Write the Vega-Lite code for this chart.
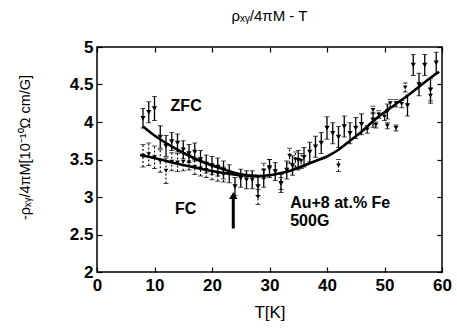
{
  "$schema": "https://vega.github.io/schema/vega-lite/v6.json",
  "width": 345,
  "height": 225,
  "autosize": {"type": "none"},
  "padding": {"left": 97, "top": 47, "right": 15, "bottom": 59},
  "background": "white",
  "config": {
    "font": "Liberation Sans",
    "view": {"stroke": "black", "strokeWidth": 1.5},
    "axis": {"grid": false, "domain": false, "tickColor": "black", "tickSize": -5, "tickWidth": 1.2, "labelColor": "black", "labelFont": "Liberation Sans", "labelFontSize": 17, "labelFontWeight": "bold", "titleColor": "black", "titleFont": "Liberation Sans", "titleFontWeight": "normal"}
  },
  "title": {"text": "ρₓᵧ/4πM - T", "fontSize": 15, "fontWeight": "normal", "font": "Liberation Sans", "color": "black", "offset": 14, "anchor": "middle"},
  "datasets": {
    "zfc": [
      {"T": 8, "v": 4.05, "e": 0.13}, {"T": 9, "v": 4.13, "e": 0.14}, {"T": 10, "v": 4.18, "e": 0.16},
      {"T": 11, "v": 3.8, "e": 0.15}, {"T": 12, "v": 3.68, "e": 0.14}, {"T": 13, "v": 3.74, "e": 0.12},
      {"T": 14, "v": 3.72, "e": 0.12}, {"T": 15, "v": 3.63, "e": 0.12}, {"T": 16, "v": 3.58, "e": 0.12},
      {"T": 17, "v": 3.6, "e": 0.12}, {"T": 18, "v": 3.5, "e": 0.12}, {"T": 19, "v": 3.44, "e": 0.12},
      {"T": 20, "v": 3.42, "e": 0.12}, {"T": 21, "v": 3.4, "e": 0.12}, {"T": 22, "v": 3.36, "e": 0.12},
      {"T": 23, "v": 3.31, "e": 0.12}, {"T": 24, "v": 3.14, "e": 0.12}, {"T": 25, "v": 3.25, "e": 0.12},
      {"T": 26, "v": 3.23, "e": 0.12}, {"T": 27, "v": 3.23, "e": 0.12}, {"T": 28, "v": 3.14, "e": 0.12},
      {"T": 29, "v": 3.25, "e": 0.12}, {"T": 30, "v": 3.38, "e": 0.12}, {"T": 31, "v": 3.34, "e": 0.12},
      {"T": 32, "v": 3.18, "e": 0.12}, {"T": 33, "v": 3.36, "e": 0.12}, {"T": 34, "v": 3.42, "e": 0.13},
      {"T": 35, "v": 3.49, "e": 0.13}, {"T": 36, "v": 3.53, "e": 0.13}, {"T": 37, "v": 3.6, "e": 0.13},
      {"T": 38, "v": 3.67, "e": 0.14}, {"T": 39, "v": 3.72, "e": 0.14}, {"T": 40, "v": 3.92, "e": 0.15},
      {"T": 41, "v": 3.85, "e": 0.14}, {"T": 42, "v": 3.8, "e": 0.14}, {"T": 43, "v": 3.94, "e": 0.14},
      {"T": 44, "v": 3.85, "e": 0.14}, {"T": 45, "v": 3.92, "e": 0.14}, {"T": 46, "v": 3.97, "e": 0.14},
      {"T": 48, "v": 4.03, "e": 0.1}, {"T": 50.5, "v": 4.14, "e": 0.1}, {"T": 54, "v": 4.22, "e": 0.14},
      {"T": 55, "v": 4.76, "e": 0.14}, {"T": 56, "v": 4.5, "e": 0.15}, {"T": 57, "v": 4.76, "e": 0.14},
      {"T": 58, "v": 4.43, "e": 0.15}, {"T": 59, "v": 4.79, "e": 0.14}
    ],
    "fc": [
      {"T": 8, "v": 3.55, "e": 0.15}, {"T": 9, "v": 3.57, "e": 0.15}, {"T": 10, "v": 3.53, "e": 0.15},
      {"T": 11, "v": 3.48, "e": 0.15}, {"T": 12, "v": 3.35, "e": 0.17}, {"T": 13, "v": 3.47, "e": 0.12},
      {"T": 14, "v": 3.46, "e": 0.12}, {"T": 15, "v": 3.47, "e": 0.12}, {"T": 16, "v": 3.46, "e": 0.1},
      {"T": 17, "v": 3.4, "e": 0.1}, {"T": 18, "v": 3.38, "e": 0.1}, {"T": 19, "v": 3.36, "e": 0.1},
      {"T": 20, "v": 3.33, "e": 0.1}, {"T": 21, "v": 3.31, "e": 0.1}, {"T": 22, "v": 3.3, "e": 0.1},
      {"T": 28, "v": 3.0, "e": 0.1}, {"T": 29, "v": 3.35, "e": 0.1}, {"T": 30, "v": 3.4, "e": 0.1},
      {"T": 32, "v": 3.18, "e": 0.08}, {"T": 33.5, "v": 3.55, "e": 0.1}, {"T": 34.5, "v": 3.5, "e": 0.1},
      {"T": 35.5, "v": 3.48, "e": 0.1}, {"T": 42, "v": 3.42, "e": 0.08},
      {"T": 47, "v": 3.9, "e": 0.05}, {"T": 48, "v": 4.16, "e": 0.05}, {"T": 49, "v": 4.1, "e": 0.05},
      {"T": 50, "v": 4.07, "e": 0.05}, {"T": 51, "v": 4.25, "e": 0.05}, {"T": 52, "v": 4.25, "e": 0.05},
      {"T": 53, "v": 4.24, "e": 0.05}, {"T": 48.5, "v": 3.96, "e": 0.04}, {"T": 50.5, "v": 3.95, "e": 0.04},
      {"T": 52, "v": 3.92, "e": 0.04}, {"T": 53.6, "v": 4.46, "e": 0.06}, {"T": 58, "v": 4.35, "e": 0.1}
    ],
    "fitZ": [
      {"T": 8, "v": 3.94}, {"T": 10, "v": 3.82}, {"T": 12, "v": 3.72}, {"T": 14, "v": 3.63},
      {"T": 16, "v": 3.55}, {"T": 18, "v": 3.48}, {"T": 20, "v": 3.42}, {"T": 22, "v": 3.37},
      {"T": 24, "v": 3.32}, {"T": 26, "v": 3.29}, {"T": 28, "v": 3.28}, {"T": 30, "v": 3.29},
      {"T": 32, "v": 3.32}, {"T": 34, "v": 3.36}, {"T": 36, "v": 3.42}, {"T": 38, "v": 3.48},
      {"T": 40, "v": 3.54}, {"T": 42, "v": 3.63}, {"T": 44, "v": 3.75}, {"T": 46, "v": 3.87},
      {"T": 48, "v": 4.01}, {"T": 50, "v": 4.13}, {"T": 52, "v": 4.24}, {"T": 54, "v": 4.35},
      {"T": 56, "v": 4.47}, {"T": 58, "v": 4.59}, {"T": 59.5, "v": 4.67}
    ],
    "fitF": [
      {"T": 7.5, "v": 3.56}, {"T": 10, "v": 3.52}, {"T": 13, "v": 3.46}, {"T": 16, "v": 3.41},
      {"T": 19, "v": 3.36}, {"T": 22, "v": 3.32}, {"T": 25, "v": 3.29}, {"T": 28, "v": 3.28}
    ],
    "arrow": [{"T": 23.7, "v": 2.58}, {"T": 23.7, "v": 2.98}],
    "arrowHead": [{"T": 23.7, "v": 3.02}],
    "labels": [
      {"T": 15.5, "v": 4.22, "txt": "ZFC"},
      {"T": 15.4, "v": 2.84, "txt": "FC"}
    ],
    "sample": [
      {"T": 33.6, "v": 2.85, "txt": "Au+8 at.% Fe"},
      {"T": 33.6, "v": 2.62, "txt": "500G"}
    ]
  },
  "resolve": {"axis": {"x": "independent", "y": "independent"}},
  "layer": [
    {
      "data": {"name": "fitZ"},
      "mark": {"type": "line", "color": "black", "strokeWidth": 2.6, "interpolate": "monotone"},
      "encoding": {
        "x": {"field": "T", "type": "quantitative", "scale": {"domain": [0, 60], "nice": false},
              "axis": {"values": [0, 10, 20, 30, 40, 50, 60], "title": "T[K]", "titleFontSize": 17, "titlePadding": 11, "labelPadding": 10, "labelFlush": false}},
        "y": {"field": "v", "type": "quantitative", "scale": {"domain": [2, 5], "nice": false, "zero": false},
              "axis": {"values": [2, 2.5, 3, 3.5, 4, 4.5, 5], "format": "~f", "title": "-ρₓᵧ/4πM[10⁻¹⁰Ω cm/G]", "titleFontSize": 14.5, "titleAngle": -90, "titleX": -72, "titleY": 100, "titleAlign": "center", "titleBaseline": "middle", "labelPadding": 9, "labelFlush": false}}
      }
    },
    {
      "data": {"name": "fitZ"},
      "mark": {"type": "point", "opacity": 0},
      "encoding": {
        "x": {"field": "T", "type": "quantitative", "axis": {"orient": "top", "values": [0, 10, 20, 30, 40, 50, 60], "labels": false, "title": null}},
        "y": {"field": "v", "type": "quantitative", "axis": {"orient": "right", "values": [2, 2.5, 3, 3.5, 4, 4.5, 5], "labels": false, "title": null}}
      }
    },
    {
      "data": {"name": "fitF"},
      "mark": {"type": "line", "color": "black", "strokeWidth": 2.6, "interpolate": "monotone"},
      "encoding": {
        "x": {"field": "T", "type": "quantitative", "axis": null},
        "y": {"field": "v", "type": "quantitative", "axis": null}
      }
    },
    {
      "data": {"name": "fc"},
      "mark": {"type": "errorbar", "color": "black", "ticks": {"size": 5, "strokeDash": [2, 1.5]}, "rule": {"strokeDash": [2, 2], "strokeWidth": 1.1}},
      "encoding": {
        "x": {"field": "T", "type": "quantitative", "axis": null},
        "y": {"field": "v", "type": "quantitative", "axis": null},
        "yError": {"field": "e"}
      }
    },
    {
      "data": {"name": "fc"},
      "mark": {"type": "point", "shape": "triangle-down", "filled": true, "color": "black", "size": 22, "opacity": 1},
      "encoding": {
        "x": {"field": "T", "type": "quantitative", "axis": null},
        "y": {"field": "v", "type": "quantitative", "axis": null}
      }
    },
    {
      "data": {"name": "zfc"},
      "mark": {"type": "errorbar", "color": "black", "ticks": {"size": 5}, "rule": {"strokeWidth": 1.3}},
      "encoding": {
        "x": {"field": "T", "type": "quantitative", "axis": null},
        "y": {"field": "v", "type": "quantitative", "axis": null},
        "yError": {"field": "e"}
      }
    },
    {
      "data": {"name": "zfc"},
      "mark": {"type": "point", "shape": "triangle-down", "filled": true, "color": "black", "size": 28, "opacity": 1},
      "encoding": {
        "x": {"field": "T", "type": "quantitative", "axis": null},
        "y": {"field": "v", "type": "quantitative", "axis": null}
      }
    },
    {
      "data": {"name": "arrow"},
      "mark": {"type": "line", "color": "black", "strokeWidth": 3},
      "encoding": {
        "x": {"field": "T", "type": "quantitative", "axis": null},
        "y": {"field": "v", "type": "quantitative", "axis": null}
      }
    },
    {
      "data": {"name": "arrowHead"},
      "mark": {"type": "point", "shape": "triangle-up", "filled": true, "color": "black", "size": 70, "opacity": 1},
      "encoding": {
        "x": {"field": "T", "type": "quantitative", "axis": null},
        "y": {"field": "v", "type": "quantitative", "axis": null}
      }
    },
    {
      "data": {"name": "labels"},
      "mark": {"type": "text", "font": "Liberation Sans", "fontWeight": "bold", "fontSize": 16, "color": "black", "align": "center", "baseline": "middle"},
      "encoding": {
        "x": {"field": "T", "type": "quantitative", "axis": null},
        "y": {"field": "v", "type": "quantitative", "axis": null},
        "text": {"field": "txt"}
      }
    },
    {
      "data": {"name": "sample"},
      "mark": {"type": "text", "font": "Liberation Sans", "fontWeight": "bold", "fontSize": 16, "color": "black", "align": "left", "baseline": "alphabetic"},
      "encoding": {
        "x": {"field": "T", "type": "quantitative", "axis": null},
        "y": {"field": "v", "type": "quantitative", "axis": null},
        "text": {"field": "txt"}
      }
    }
  ]
}
